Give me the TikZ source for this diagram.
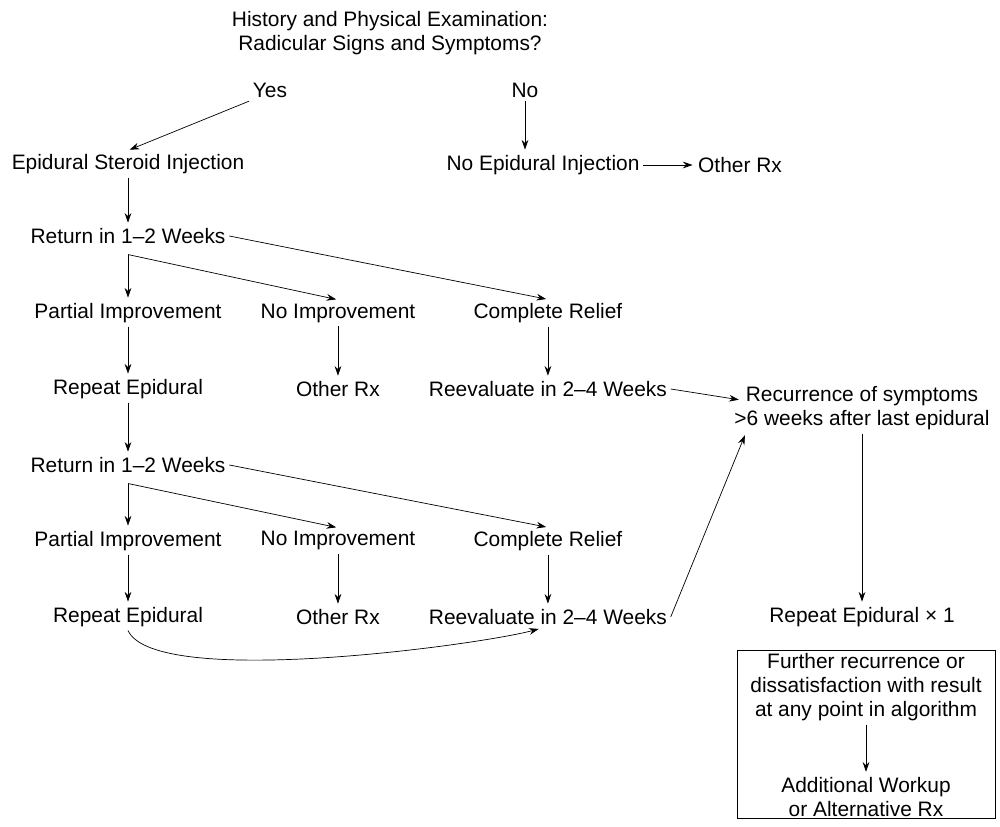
\documentclass[tikz,border=0pt]{standalone}
\usepackage{fontspec}
\setmainfont{Liberation Sans}
\usetikzlibrary{positioning, arrows.meta}

\begin{document}
\begin{tikzpicture}[x=0.02cm, y=-0.02cm, ->, >={Stealth[length=5.5pt,width=3.8pt]}, shorten >=1pt, thin, node distance=1.52cm,
    every node/.style={font=\fontsize{11.9}{13.6}\selectfont, inner sep=2pt, align=center}]
      \path[use as bounding box, -] (0,0) rectangle (1000,827);

      % question and the two answers
      \node (hist) at (390,33) {History and Physical Examination:\\Radicular Signs and Symptoms?};
      \node (yes) at (270,90) {Yes};
      \node (no) at (525,90) {No};
      \node (esi) at (128,164) {Epidural Steroid Injection};
      \node (nei) at (543,165) {No Epidural Injection};
      \node (orx0) at (740,165) {Other Rx};
      \node (ret1) at (128,236) {Return in 1--2 Weeks};

      % first round
      \node (pi1) at (128,313) {Partial Improvement};
      \node (ni1) [right of=pi1, node distance=4.2cm] {No Improvement};
      \node (cr1) [right of=ni1, node distance=4.2cm] {Complete Relief};
      \node (rep1) [below of=pi1] {Repeat Epidural};
      \node (orx1) [below of=ni1] {Other Rx};
      \node (re1) [below of=cr1] {Reevaluate in 2--4 Weeks};

      % second round
      \node (ret2) [below of=rep1] {Return in 1--2 Weeks};
      \node (pi2) [below of=ret2] {Partial Improvement};
      \node (ni2) [right of=pi2, node distance=4.2cm] {No Improvement};
      \node (cr2) [right of=ni2, node distance=4.2cm] {Complete Relief};
      \node (rep2) [below of=pi2] {Repeat Epidural};
      \node (orx2) [below of=ni2] {Other Rx};
      \node (re2) [below of=cr2] {Reevaluate in 2--4 Weeks};

      \coordinate (br1) at ([yshift=-0.14cm]ret1.south);
      \coordinate (br2) at ([yshift=-0.14cm]ret2.south);

      % recurrence branch
      \node (rec) at (862,408) {Recurrence of symptoms\\>6 weeks after last epidural};
      \node (rep3) at (862,617) {Repeat Epidural × 1};
      \node[draw, minimum width=5.16cm, minimum height=3.36cm] (box) at (866,734) {};
      \node (furth) at (866,687) {Further recurrence or\\dissatisfaction with result\\at any point in algorithm};
      \node (addl) at (866,797) {Additional Workup\\or Alternative Rx};

      \path (yes.south west) edge (esi.north)
            (no.south) edge (no.south |- nei.north)
            (nei) edge (orx0)
            (esi) edge (ret1)
            (br1) edge (pi1)
            (br1) edge (ni1.north)
            (ret1.east) edge (cr1.north)
            (pi1) edge (rep1)
            (ni1) edge (orx1)
            (cr1) edge (re1)
            (rep1) edge (ret2)
            (br2) edge (pi2)
            (br2) edge (ni2.north)
            (ret2.east) edge (cr2.north)
            (pi2) edge (rep2)
            (ni2) edge (orx2)
            (cr2) edge (re2)
            (rep2.south) edge [out=-65, in=-165, looseness=0.4] ([xshift=-0.15cm]re2.south)
            (re1.east) edge ([xshift=0.2cm, yshift=0.16cm]rec.west)
            (re2.east) edge ([xshift=0.3cm]rec.south west)
            (rec) edge (rep3)
            (furth) edge (addl)
            ;
    \end{tikzpicture}
\end{document}
